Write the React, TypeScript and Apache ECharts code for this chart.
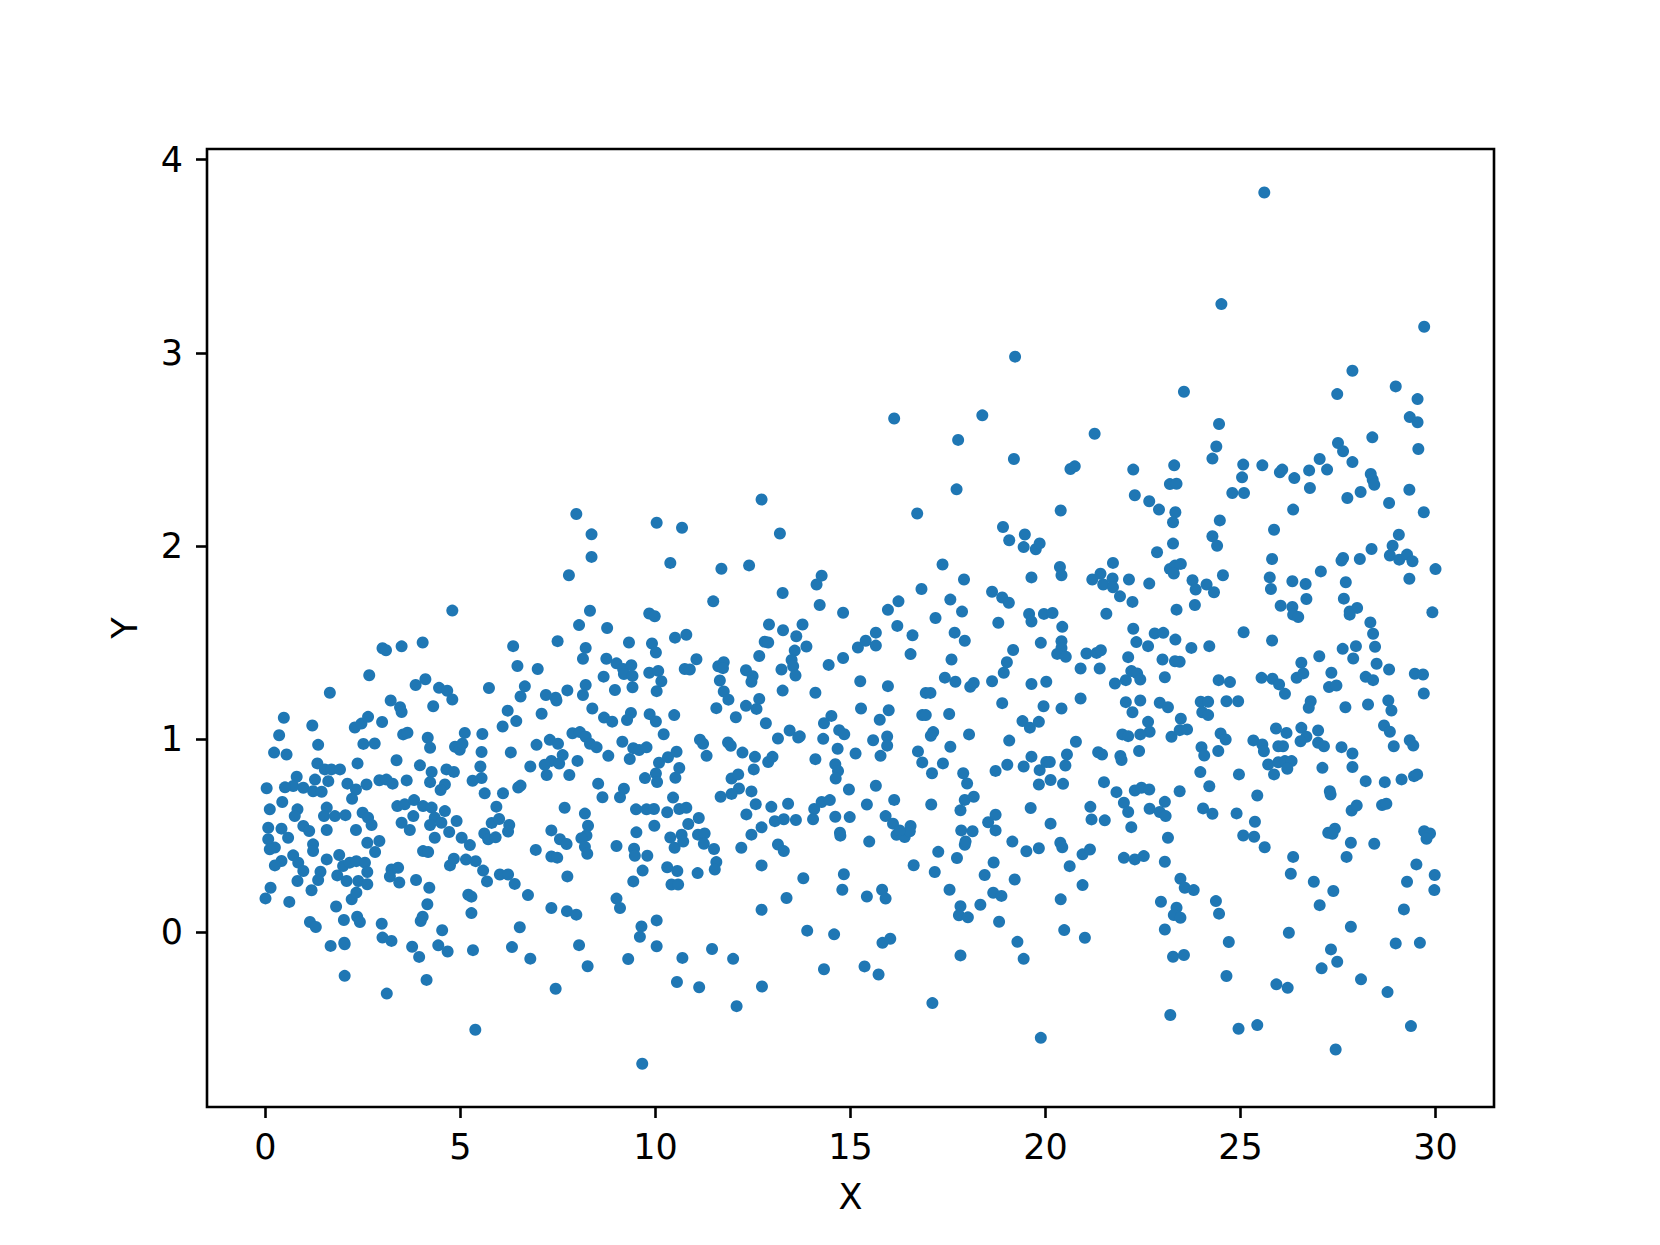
import React, { useEffect, useRef } from "react";
import * as echarts from "echarts";

// Tick labels
const xTicks = [0, 5, 10, 15, 20, 25, 30];
const yTicks = [0, 1, 2, 3, 4];

// Points, grouped by x band: [x, y]
const band0to5: number[][] = [
  [4.79,1.665],[3.0,1.47],[3.09,1.46],[3.49,1.48],[4.03,1.50],[2.66,1.33],[1.65,1.24],[3.85,1.28],[4.10,1.31],[4.45,1.265],[4.66,1.25],[4.79,1.205],[3.21,1.20],[3.45,1.165],[3.49,1.14],[4.30,1.17],[0.47,1.11],[1.20,1.07],[0.35,1.02],[0.22,0.93],[0.54,0.92],[1.35,0.97],[2.29,1.06],[2.46,1.08],[2.63,1.115],[2.99,1.088],[2.51,0.975],[2.80,0.977],[3.53,1.024],[3.64,1.033],[4.16,1.007],[4.22,0.955],[4.86,0.96],[4.98,0.945],[3.36,0.89],[3.96,0.864],[4.26,0.83],[4.64,0.843],[4.83,0.83],[2.36,0.874],[1.33,0.874],[1.52,0.843],[1.69,0.843],[1.91,0.843],[0.80,0.805],[0.71,0.757],[0.97,0.748],[1.27,0.79],[1.22,0.73],[1.44,0.727],[1.61,0.782],[0.50,0.75],[0.03,0.745],[2.10,0.769],[2.32,0.739],[2.59,0.765],[2.92,0.787],[3.10,0.79],[3.26,0.769],[3.62,0.786],[4.22,0.777],[4.60,0.765],[4.49,0.736],[0.43,0.674],[0.11,0.636],[0.82,0.636],[0.75,0.601],[0.97,0.55],[1.12,0.524],[1.57,0.645],[1.50,0.601],[1.78,0.601],[2.05,0.606],[2.22,0.691],[2.49,0.619],[2.63,0.593],[2.72,0.555],[2.32,0.529],[3.38,0.653],[3.57,0.662],[3.81,0.684],[4.04,0.653],[3.49,0.567],[3.70,0.529],[3.79,0.601],[4.26,0.645],[4.34,0.593],[4.22,0.555],[4.51,0.567],[4.60,0.627],[4.71,0.519],[4.90,0.576],[4.34,0.489],[5.03,0.489],[0.07,0.541],[0.41,0.536],[0.58,0.489],[0.07,0.481],[0.24,0.438],[0.11,0.429],[0.41,0.369],[0.24,0.346],[0.71,0.398],[0.84,0.36],[0.97,0.317],[0.82,0.265],[1.22,0.455],[1.22,0.42],[1.57,0.529],[1.57,0.377],[1.89,0.40],[1.41,0.313],[1.35,0.27],[1.18,0.217],[1.99,0.343],[2.16,0.36],[2.33,0.368],[2.55,0.36],[2.61,0.312],[1.84,0.294],[2.08,0.265],[2.38,0.265],[2.61,0.248],[2.21,0.17],[2.33,0.205],[2.61,0.463],[2.92,0.472],[2.81,0.415],[3.23,0.325],[3.40,0.334],[3.19,0.288],[3.43,0.257],[3.86,0.27],[4.20,0.23],[4.15,0.145],[4.04,0.42],[4.17,0.415],[4.73,0.346],[4.83,0.38],[0.13,0.23],[0.0,0.175],[0.61,0.157],[1.81,0.133],[1.14,0.053],[1.29,0.027],[2.01,0.063],[2.35,0.08],[2.42,0.053],[2.98,0.044],[3.0,-0.028],[3.23,-0.045],[3.98,0.058],[4.03,0.08],[4.53,0.01],[4.43,-0.068],[4.67,-0.10],[3.76,-0.075],[3.94,-0.128],[1.67,-0.071],[2.02,-0.054],[2.03,-0.063],[2.03,-0.226],[4.13,-0.247],[3.11,-0.318]
];

const band5to10: number[][] = [
  [7.97,2.165],[8.36,2.06],[8.36,1.943],[7.78,1.848],[10.03,2.12],[8.32,1.664],[8.04,1.59],[8.76,1.575],[9.84,1.65],[9.98,1.636],[6.35,1.481],[7.49,1.507],[8.21,1.472],[8.14,1.416],[9.32,1.50],[9.91,1.495],[10.01,1.448],[6.46,1.378],[6.98,1.363],[8.74,1.416],[9.0,1.392],[9.17,1.363],[9.38,1.382],[9.19,1.337],[9.41,1.327],[9.41,1.268],[8.67,1.323],[8.96,1.254],[9.84,1.343],[10.07,1.353],[10.03,1.248],[5.73,1.264],[6.65,1.273],[6.54,1.22],[7.19,1.228],[7.44,1.214],[7.46,1.20],[7.74,1.252],[8.21,1.28],[8.14,1.228],[8.38,1.158],[6.21,1.147],[6.43,1.093],[6.08,1.065],[7.08,1.131],[8.68,1.111],[8.89,1.09],[9.37,1.135],[9.27,1.099],[9.85,1.129],[10.01,1.091],[5.11,1.032],[5.56,1.026],[5.05,0.976],[5.54,0.933],[6.29,0.931],[6.95,0.97],[7.29,0.996],[7.50,0.976],[7.62,0.917],[7.33,0.887],[7.16,0.867],[7.53,0.873],[6.79,0.858],[7.21,0.814],[7.87,1.03],[8.06,1.036],[8.21,1.012],[8.32,0.976],[8.49,0.957],[8.0,0.887],[7.79,0.814],[8.79,0.913],[9.15,0.986],[9.43,0.953],[9.58,0.943],[9.77,0.957],[9.34,0.897],[10.09,0.877],[10.01,0.822],[10.04,0.778],[9.73,0.798],[5.51,0.858],[5.54,0.798],[5.31,0.784],[5.62,0.719],[6.09,0.719],[6.48,0.749],[6.54,0.759],[8.53,0.769],[8.64,0.699],[9.09,0.699],[9.19,0.743],[9.50,0.636],[9.77,0.636],[7.67,0.644],[8.19,0.614],[8.27,0.551],[8.23,0.501],[8.10,0.487],[8.19,0.442],[8.25,0.406],[5.92,0.65],[5.80,0.566],[5.99,0.586],[6.25,0.555],[6.22,0.521],[5.61,0.511],[5.71,0.481],[5.90,0.491],[5.24,0.451],[7.33,0.527],[7.55,0.481],[7.72,0.457],[6.93,0.426],[7.33,0.392],[7.48,0.386],[9.0,0.446],[9.45,0.432],[9.47,0.396],[9.79,0.396],[9.97,0.551],[9.51,0.517],[5.14,0.376],[5.39,0.368],[5.58,0.319],[5.68,0.263],[6.01,0.299],[6.22,0.299],[6.39,0.25],[6.73,0.192],[5.20,0.194],[5.28,0.184],[5.28,0.099],[7.33,0.125],[7.73,0.109],[7.97,0.091],[7.74,0.289],[9.0,0.174],[9.09,0.125],[9.43,0.263],[9.67,0.319],[10.03,0.061],[9.64,0.03],[9.60,-0.024],[10.03,-0.073],[6.52,0.026],[6.32,-0.077],[6.79,-0.137],[5.32,-0.093],[8.04,-0.067],[8.26,-0.176],[9.30,-0.139],[7.44,-0.293],[5.38,-0.505],[9.66,-0.681]
];

const band10to15: number[][] = [
  [12.72,2.24],[10.68,2.094],[13.19,2.064],[10.38,1.912],[11.69,1.882],[12.40,1.899],[14.26,1.846],[14.13,1.80],[11.48,1.713],[13.26,1.756],[14.21,1.694],[14.81,1.654],[10.50,1.525],[10.79,1.54],[12.91,1.593],[13.77,1.593],[13.61,1.532],[13.87,1.479],[12.80,1.504],[12.89,1.50],[13.27,1.563],[12.66,1.43],[13.57,1.458],[13.49,1.409],[13.53,1.377],[13.59,1.329],[13.23,1.36],[13.26,1.251],[14.44,1.384],[14.81,1.42],[11.05,1.413],[10.75,1.363],[10.88,1.36],[11.61,1.377],[11.75,1.398],[11.73,1.367],[11.65,1.303],[11.75,1.246],[11.87,1.204],[12.32,1.356],[12.49,1.325],[12.46,1.297],[10.15,1.299],[14.10,1.24],[11.56,1.16],[12.06,1.113],[12.32,1.172],[12.59,1.156],[12.66,1.208],[12.83,1.082],[10.48,1.124],[10.21,1.025],[14.51,1.12],[14.32,1.082],[14.30,1.001],[14.71,1.046],[14.84,1.025],[14.67,0.95],[13.14,1.003],[13.44,1.044],[13.66,1.008],[13.70,1.014],[11.14,0.997],[11.22,0.976],[11.31,0.913],[11.86,0.982],[11.93,0.965],[12.23,0.93],[12.55,0.908],[12.52,0.843],[12.89,0.881],[13.0,0.908],[14.10,0.896],[14.61,0.87],[14.68,0.835],[14.62,0.796],[10.32,0.906],[10.54,0.934],[10.61,0.85],[10.51,0.80],[11.95,0.796],[12.12,0.817],[12.14,0.744],[11.95,0.716],[11.67,0.701],[12.46,0.729],[12.57,0.663],[12.33,0.61],[12.97,0.649],[13.06,0.575],[13.29,0.585],[13.60,0.581],[13.40,0.665],[14.07,0.638],[14.04,0.585],[14.26,0.674],[14.47,0.684],[14.61,0.598],[14.98,0.596],[14.96,0.739],[14.73,0.515],[14.74,0.50],[10.45,0.697],[9.96,0.638],[10.30,0.621],[10.61,0.638],[10.79,0.644],[10.84,0.56],[11.11,0.591],[10.38,0.49],[10.49,0.437],[10.67,0.505],[10.71,0.469],[11.09,0.505],[11.26,0.511],[11.24,0.458],[11.50,0.431],[11.56,0.363],[11.52,0.325],[11.08,0.306],[10.30,0.336],[10.56,0.317],[10.41,0.247],[10.58,0.247],[12.20,0.437],[12.46,0.505],[12.72,0.543],[13.14,0.454],[13.29,0.42],[12.72,0.346],[13.79,0.279],[13.36,0.177],[12.72,0.116],[14.83,0.30],[14.79,0.22],[10.69,-0.133],[11.45,-0.087],[11.99,-0.138],[10.55,-0.258],[11.12,-0.285],[12.08,-0.383],[12.73,-0.281],[13.89,0.008],[14.58,-0.011],[14.32,-0.192]
];

const band15to20: number[][] = [
  [16.12,2.66],[18.38,2.676],[17.76,2.549],[19.19,2.45],[17.72,2.293],[16.71,2.168],[18.91,2.098],[19.07,2.029],[19.47,2.059],[19.44,1.994],[19.75,1.983],[19.85,2.013],[17.36,1.904],[17.91,1.826],[19.64,1.837],[16.82,1.777],[16.23,1.713],[15.96,1.669],[16.20,1.586],[17.56,1.722],[17.86,1.66],[17.18,1.627],[18.63,1.763],[18.89,1.733],[19.06,1.706],[18.79,1.602],[19.58,1.648],[19.64,1.609],[19.96,1.648],[19.88,1.498],[15.19,1.474],[15.39,1.509],[15.65,1.551],[15.65,1.484],[16.59,1.537],[16.54,1.44],[17.67,1.551],[17.93,1.509],[17.59,1.412],[19.17,1.461],[19.01,1.398],[18.93,1.343],[15.25,1.299],[15.96,1.274],[17.42,1.318],[17.69,1.297],[18.07,1.271],[18.16,1.29],[18.63,1.299],[19.64,1.285],[20.02,1.297],[15.27,1.158],[15.98,1.149],[15.75,1.10],[16.93,1.239],[17.05,1.239],[16.84,1.124],[16.93,1.124],[17.53,1.13],[17.12,1.036],[17.06,1.017],[18.04,1.024],[18.89,1.186],[19.95,1.17],[19.41,1.093],[19.60,1.059],[19.83,1.089],[19.07,0.992],[15.58,0.994],[15.94,1.013],[15.94,0.966],[15.77,0.913],[15.13,0.925],[16.73,0.936],[16.84,0.879],[17.37,0.874],[17.56,0.96],[17.09,0.823],[17.89,0.823],[17.99,0.77],[18.72,0.835],[19.02,0.867],[19.44,0.858],[19.64,0.909],[19.85,0.839],[20.02,0.881],[20.11,0.881],[19.83,0.765],[20.13,0.788],[15.65,0.758],[16.12,0.685],[15.42,0.661],[17.07,0.661],[17.93,0.685],[18.16,0.701],[17.82,0.631],[15.90,0.601],[16.09,0.562],[16.18,0.504],[16.39,0.493],[16.54,0.55],[16.52,0.523],[16.26,0.527],[15.48,0.469],[17.84,0.527],[18.13,0.523],[17.93,0.453],[17.95,0.47],[18.53,0.569],[18.72,0.608],[18.72,0.527],[19.15,0.469],[19.62,0.643],[20.13,0.562],[19.51,0.419],[19.83,0.435],[17.25,0.416],[16.62,0.347],[17.16,0.312],[17.73,0.384],[18.67,0.361],[18.44,0.296],[19.21,0.273],[17.54,0.22],[17.82,0.135],[17.78,0.088],[18.01,0.077],[18.33,0.142],[18.66,0.204],[18.87,0.188],[18.81,0.054],[15.42,0.185],[15.81,0.22],[15.90,0.174],[15.82,-0.055],[16.02,-0.034],[15.36,-0.177],[15.72,-0.219],[17.82,-0.12],[19.28,-0.05],[19.44,-0.138],[17.10,-0.367],[19.88,-0.547],[19.22,2.98]
];

const band20to25: number[][] = [
  [24.51,3.252],[23.55,2.798],[24.45,2.631],[21.26,2.581],[24.38,2.515],[24.28,2.452],[20.64,2.398],[20.75,2.412],[22.25,2.395],[23.30,2.417],[25.07,2.421],[25.04,2.355],[23.19,2.32],[23.36,2.322],[24.79,2.274],[25.09,2.274],[22.29,2.262],[22.66,2.231],[22.91,2.188],[20.39,2.183],[23.33,2.174],[23.27,2.122],[24.47,2.132],[24.28,2.05],[24.40,2.001],[23.27,2.012],[22.86,1.967],[21.73,1.912],[20.37,1.891],[20.41,1.848],[21.20,1.826],[21.41,1.856],[21.48,1.80],[21.72,1.831],[21.73,1.786],[21.91,1.739],[22.14,1.826],[22.23,1.71],[22.66,1.805],[23.19,1.881],[23.32,1.898],[23.47,1.907],[23.29,1.857],[23.77,1.822],[23.85,1.774],[24.13,1.80],[24.32,1.76],[24.55,1.848],[20.18,1.653],[21.56,1.649],[23.36,1.67],[23.83,1.694],
  [20.43,1.581],[22.25,1.571],[22.80,1.547],[23.02,1.55],[23.33,1.515],[25.08,1.553],[20.41,1.507],[20.41,1.472],[20.30,1.441],[20.52,1.426],[21.05,1.443],[21.31,1.446],[21.42,1.46],[20.90,1.365],[21.39,1.365],[22.33,1.502],[22.63,1.481],[22.12,1.424],[23.0,1.412],[23.32,1.403],[23.44,1.40],[23.74,1.472],[24.20,1.481],[21.78,1.288],[22.06,1.305],[22.20,1.352],[22.35,1.34],[22.43,1.308],[23.06,1.32],[24.44,1.305],[24.73,1.295],[20.90,1.21],[20.41,1.158],[22.06,1.191],[22.23,1.139],[22.43,1.20],[22.93,1.188],[23.14,1.165],[23.98,1.193],[24.17,1.193],[24.02,1.139],[24.17,1.124],[24.64,1.196],[24.94,1.196],[23.47,1.105],[22.63,1.089],[22.67,1.038],[22.43,1.024],[21.97,1.024],[22.12,1.015],[23.23,1.012],[23.44,1.046],[23.63,1.05],[24.49,1.029],[24.62,0.998],[20.78,0.986],[20.55,0.92],[20.51,0.863],[21.35,0.932],[21.45,0.92],[21.92,0.912],[21.95,0.891],[22.40,0.938],[24.0,0.958],[24.07,0.915],[24.43,0.938],[23.97,0.829],[24.20,0.756],[24.96,0.817],[20.45,0.768],[21.50,0.777],[21.82,0.725],[22.01,0.67],[22.12,0.622],[22.29,0.734],[22.46,0.748],[22.66,0.739],[23.06,0.675],[23.44,0.73],[22.67,0.639],[22.93,0.622],[23.08,0.601],[24.04,0.641],[24.28,0.613],[24.90,0.615],[21.15,0.649],[21.18,0.584],[21.52,0.579],[22.20,0.544],[23.14,0.489],[25.07,0.501],[20.38,0.463],[20.43,0.44],[20.95,0.403],[21.14,0.428],[20.62,0.342],[22.01,0.385],[22.29,0.377],[22.52,0.394],[23.06,0.365],[20.95,0.244],[20.39,0.17],[23.46,0.277],[23.57,0.23],[23.80,0.218],[22.96,0.158],[23.36,0.127],[23.29,0.089],[23.46,0.075],[24.37,0.161],[24.45,0.096],[20.48,0.011],[21.01,-0.029],[23.06,0.014],[24.70,-0.051],[23.27,-0.127],[23.55,-0.118],[24.64,-0.227],[23.20,-0.429],[24.95,-0.50]
];

const band25to30: number[][] = [
  [25.61,3.83],[29.71,3.135],[27.87,2.907],[27.48,2.786],[28.98,2.826],[29.54,2.76],[29.34,2.667],[29.54,2.64],[27.50,2.533],[27.63,2.49],[28.38,2.562],[29.56,2.502],[25.56,2.417],[26.01,2.381],[26.07,2.395],[26.38,2.351],[26.76,2.391],[26.78,2.30],[27.03,2.45],[27.22,2.395],[27.87,2.434],[28.34,2.372],[28.39,2.343],[28.43,2.317],[27.74,2.248],[28.08,2.279],[28.81,2.222],[29.33,2.291],[29.70,2.174],[26.35,2.188],[25.86,2.084],[29.06,2.058],[28.90,2.001],[25.81,1.932],[25.75,1.837],[25.78,1.777],[26.33,1.817],[26.67,1.803],[27.06,1.868],[27.63,1.938],[27.59,1.924],[28.06,1.932],[28.36,1.984],[28.83,1.95],[29.07,1.929],[29.27,1.955],[29.41,1.92],[29.33,1.83],[30.0,1.88],[27.70,1.812],[26.69,1.725],[27.65,1.727],[26.03,1.69],[26.33,1.684],[26.35,1.644],[26.48,1.632],[27.80,1.661],[27.99,1.679],[27.80,1.644],[28.33,1.604],[29.92,1.656],
  [28.40,1.545],[28.45,1.478],[25.81,1.51],[27.02,1.429],[27.62,1.467],[27.96,1.481],[27.89,1.417],[26.56,1.395],[26.44,1.317],[26.61,1.34],[25.54,1.317],[25.82,1.312],[25.99,1.283],[26.14,1.234],[27.33,1.343],[27.27,1.269],[27.46,1.277],[28.21,1.322],[28.40,1.305],[28.49,1.39],[28.81,1.36],[29.47,1.338],[29.68,1.334],[29.70,1.236],[26.80,1.196],[26.75,1.162],[27.69,1.165],[28.27,1.179],[28.79,1.20],[28.87,1.148],[28.68,1.07],[28.83,1.038],[29.34,0.994],[29.43,0.967],[28.93,0.963],[25.33,0.993],[25.56,0.972],[25.60,0.937],[25.91,1.055],[26.18,1.032],[26.56,1.058],[26.69,1.012],[26.54,0.989],[26.99,1.044],[26.99,0.981],[27.14,0.963],[27.59,0.958],[27.87,0.925],[25.97,0.963],[26.09,0.963],[25.71,0.868],[25.97,0.88],[26.14,0.886],[26.31,0.886],[26.20,0.846],[25.86,0.817],[27.10,0.851],[27.87,0.855],[28.21,0.782],[28.70,0.777],[29.13,0.791],[29.45,0.808],[29.53,0.817],[25.43,0.708],[27.29,0.73],[27.31,0.713],[27.85,0.63],[27.98,0.656],[28.63,0.658],[28.74,0.665],[25.37,0.572],[25.35,0.494],[25.62,0.44],[27.25,0.515],[27.42,0.536],[27.36,0.51],[27.83,0.463],[27.72,0.39],[28.43,0.458],[29.71,0.523],[29.86,0.511],[29.77,0.484],[26.35,0.39],[26.29,0.303],[26.88,0.261],[27.38,0.213],[27.03,0.14],[29.51,0.351],[29.27,0.261],[29.98,0.296],[29.97,0.218],[29.19,0.118],[27.83,0.028],[26.24,-0.003],[28.98,-0.058],[29.60,-0.055],[27.32,-0.089],[27.48,-0.153],[27.08,-0.187],[28.09,-0.244],[25.92,-0.27],[26.21,-0.288],[28.77,-0.31],[25.43,-0.481],[29.37,-0.486],[27.44,-0.607]
];

const allPoints = [
  ...band0to5, ...band5to10, ...band10to15, ...band15to20, ...band20to25, ...band25to30,
];

const FONT = "DejaVu Sans";

export default function App() {
  const ref = useRef<HTMLDivElement>(null);
  useEffect(() => {
    if (!ref.current) return;
    const chart = echarts.init(ref.current, undefined, { renderer: "svg" });
    chart.setOption({
      animation: false,
      backgroundColor: "#ffffff",
      grid: {
        left: 207,
        right: 166,
        top: 149,
        bottom: 138,
        show: true,
        borderColor: "#000000",
        borderWidth: 2.6,
        backgroundColor: "transparent",
      },
      xAxis: {
        type: "value",
        min: -1.5,
        max: 31.5,
        name: "X",
        nameLocation: "middle",
        nameGap: 72,
        nameTextStyle: { fontFamily: FONT, fontSize: 35, color: "#000" },
        splitLine: { show: false },
        axisLine: { show: false, onZero: false },
        axisTick: {
          show: true,
          inside: false,
          length: 11,
          customValues: xTicks,
          lineStyle: { color: "#000", width: 2.6 },
        },
        axisLabel: {
          customValues: xTicks,
          fontFamily: FONT,
          fontSize: 35,
          color: "#000",
          margin: 22,
          formatter: (v: number) => String(v),
        },
      },
      yAxis: {
        type: "value",
        min: -0.905,
        max: 4.055,
        name: "Y",
        nameLocation: "middle",
        nameRotate: 90,
        nameGap: 65,
        nameTextStyle: { fontFamily: FONT, fontSize: 35, color: "#000" },
        splitLine: { show: false },
        axisLine: { show: false, onZero: false },
        axisTick: {
          show: true,
          inside: false,
          length: 11,
          customValues: yTicks,
          lineStyle: { color: "#000", width: 2.6 },
        },
        axisLabel: {
          customValues: yTicks,
          fontFamily: FONT,
          fontSize: 35,
          color: "#000",
          margin: 24,
          formatter: (v: number) => String(v),
        },
      },
      series: [
        {
          type: "scatter",
          data: allPoints,
          symbol: "circle",
          symbolSize: 12,
          itemStyle: { color: "#1f77b4", opacity: 1 },
          silent: true,
        },
      ],
    });
    return () => chart.dispose();
  }, []);
  return (
    <div
      ref={ref}
      style={{ position: "fixed", left: 0, top: 0, width: 1660, height: 1245 }}
    />
  );
}
